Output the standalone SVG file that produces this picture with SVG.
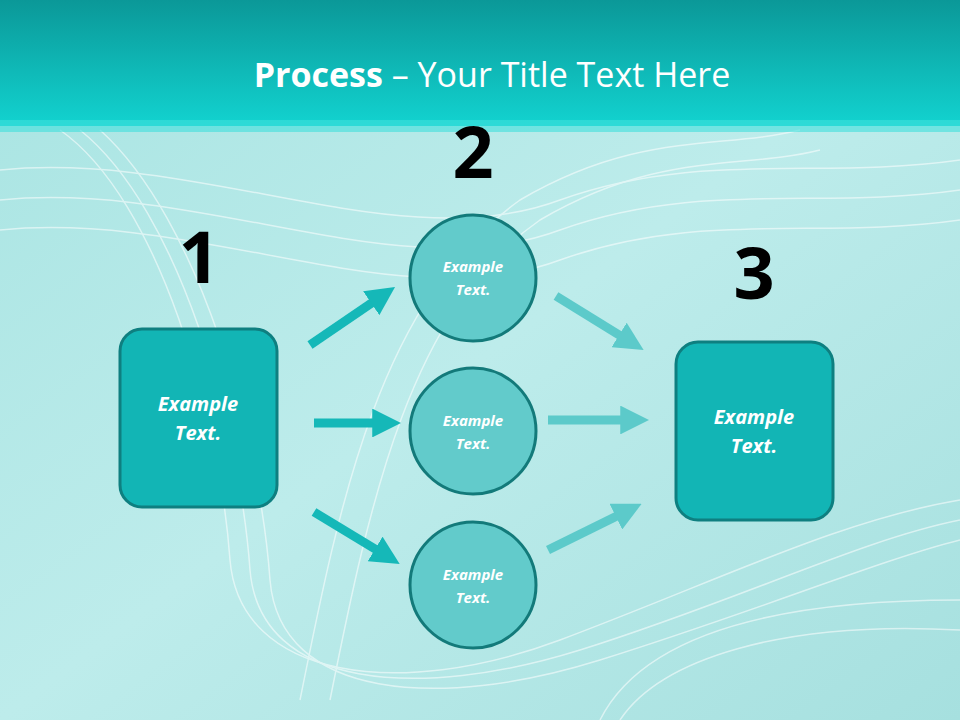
<svg xmlns="http://www.w3.org/2000/svg" width="960" height="720" viewBox="0 0 960 720">
<defs>
<linearGradient id="hdr" x1="0" y1="0" x2="0" y2="1"><stop offset="0" stop-color="#0b9898"/><stop offset="1" stop-color="#12d3d0"/></linearGradient>
<linearGradient id="bg" x1="0" y1="0" x2="1" y2="1"><stop offset="0" stop-color="#a8e4e2"/><stop offset="0.5" stop-color="#bdeceb"/><stop offset="1" stop-color="#a6e0df"/></linearGradient>
<marker id="ah" viewBox="0 0 10 10" refX="2" refY="5" markerWidth="3.2" markerHeight="3.2" orient="auto"><path d="M0,0 L10,5 L0,10 Z" fill="context-stroke"/></marker>
<marker id="a1" viewBox="0 0 10 10" refX="2" refY="5" markerWidth="3.2" markerHeight="3.2" orient="auto"><path d="M0,0 L10,5 L0,10 Z" fill="#15b8b8"/></marker>
<marker id="a2" viewBox="0 0 10 10" refX="2" refY="5" markerWidth="3.2" markerHeight="3.2" orient="auto"><path d="M0,0 L10,5 L0,10 Z" fill="#5ccaca"/></marker>
</defs>
<style>
.box{fill:#12b5b5;stroke:#0e7f80;stroke-width:3}
.cir{fill:#62cbcb;stroke:#137a7a;stroke-width:3}
.t{font-family:"Open Sans","Liberation Sans",sans-serif;font-weight:bold;font-style:italic;fill:#fff;text-anchor:middle}
.n{font-family:"Open Sans","Liberation Sans",sans-serif;font-weight:bold;font-size:72px;fill:#000;text-anchor:middle}
.w{fill:none;stroke:#fff;stroke-width:1.5;opacity:0.55}
</style>
<rect width="960" height="720" fill="url(#bg)"/>
<g class="w">
<path d="M60,130 C160,200 220,420 230,560 C240,680 400,700 560,640 C720,580 840,520 960,500"/>
<path d="M80,130 C180,210 240,430 250,570 C260,690 420,700 580,650 C740,600 860,540 960,520"/>
<path d="M100,130 C200,220 260,440 270,580 C280,700 440,710 600,660 C760,610 880,560 960,540"/>
<path d="M0,170 C200,150 400,260 560,200 C700,150 820,180 960,160"/>
<path d="M0,200 C200,180 400,290 560,230 C700,180 820,210 960,190"/>
<path d="M0,230 C200,210 400,320 560,260 C700,210 820,240 960,220"/>
<path d="M300,700 C340,500 380,300 520,200 C640,130 720,150 800,130"/>
<path d="M330,700 C370,500 410,310 540,220 C660,150 740,170 820,150"/>
<path d="M600,720 C640,640 760,600 960,600"/>
<path d="M620,720 C660,660 780,620 960,630"/>
</g>
<rect width="960" height="126" fill="url(#hdr)"/>
<rect y="120" width="960" height="12" fill="#40e0dc" opacity="0.6"/>
<text x="492" y="87" font-family="'Open Sans','Liberation Sans',sans-serif" font-size="34" fill="#fff" text-anchor="middle"><tspan font-weight="bold">Process</tspan> – Your Title Text Here</text>
<g id="connectors" stroke-width="9" fill="none">
<line x1="310" y1="345" x2="376" y2="300" stroke="#15b8b8" marker-end="url(#a1)"/>
<line x1="314" y1="423" x2="378" y2="423" stroke="#15b8b8" marker-end="url(#a1)"/>
<line x1="314" y1="512" x2="380" y2="552" stroke="#15b8b8" marker-end="url(#a1)"/>
<line x1="556" y1="296" x2="624" y2="338" stroke="#5ccaca" marker-end="url(#a2)"/>
<line x1="548" y1="420" x2="626" y2="420" stroke="#5ccaca" marker-end="url(#a2)"/>
<line x1="548" y1="550" x2="621" y2="514" stroke="#5ccaca" marker-end="url(#a2)"/>
</g>
<g id="n1"><rect class="box" x="120" y="329" width="157" height="178" rx="22"/><text class="t" x="198" y="411" font-size="20">Example</text><text class="t" x="198" y="440" font-size="20">Text.</text><text class="n" x="199" y="283">1</text></g>
<g id="n3"><rect class="box" x="676" y="342" width="157" height="178" rx="22"/><text class="t" x="754" y="424" font-size="20">Example</text><text class="t" x="754" y="453" font-size="20">Text.</text><text class="n" x="754" y="299">3</text></g>
<g id="n2a"><circle class="cir" cx="473" cy="278" r="63"/><text class="t" x="473" y="272" font-size="15">Example</text><text class="t" x="473" y="295" font-size="15">Text.</text><text class="n" x="473" y="178">2</text></g>
<g id="n2b"><circle class="cir" cx="473" cy="431" r="63"/><text class="t" x="473" y="426" font-size="15">Example</text><text class="t" x="473" y="449" font-size="15">Text.</text></g>
<g id="n2c"><circle class="cir" cx="473" cy="585" r="63"/><text class="t" x="473" y="580" font-size="15">Example</text><text class="t" x="473" y="603" font-size="15">Text.</text></g>
</svg>
